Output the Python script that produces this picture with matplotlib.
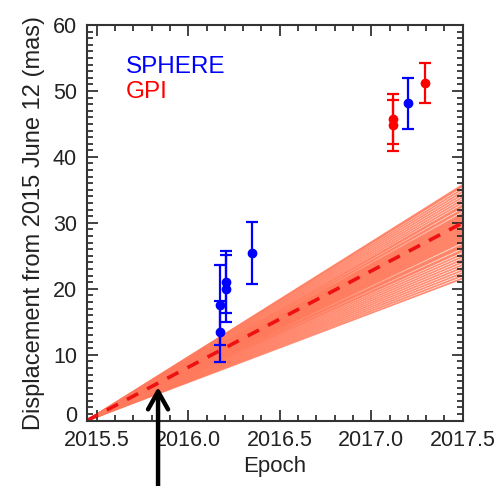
import matplotlib
matplotlib.use("Agg")
import matplotlib.pyplot as plt
import matplotlib.transforms as mtransforms
import numpy as np
from matplotlib.ticker import MultipleLocator

plt.rcParams['font.family'] = ['Liberation Sans', 'DejaVu Sans']

# Reference epoch (2015 June 12) and axis range
t0 = 2015.445
xlim = (2015.445, 2017.5)
ylim = (0, 60)

# Fan of orbital-motion predictions (mas/yr)
fan_slopes = [10.5, 10.7, 10.9, 11.1, 11.3, 11.5, 11.7, 11.9, 12.1, 12.3,
              12.5, 12.6, 12.8, 12.9, 13.0, 13.2, 13.3, 13.4, 13.5, 13.6,
              13.7, 13.8, 13.9, 14.0, 14.1, 14.2, 14.3, 14.4, 14.5, 14.6,
              14.7, 14.8, 14.9, 15.0, 15.1, 15.2, 15.3, 15.5, 15.6, 15.8,
              15.9, 16.1, 16.3, 16.5, 16.7, 16.9, 17.1, 17.3, 17.4]
mean_slope = 14.6

# SPHERE measurements
sphere_epoch = [2016.173, 2016.173, 2016.205, 2016.205, 2016.347, 2017.199]
sphere_disp = [17.5, 13.5, 21.1, 20.0, 25.45, 48.1]
sphere_err = [6.1, 4.6, 4.7, 5.1, 4.65, 3.85]

# GPI measurements
gpi_epoch = [2017.12, 2017.12, 2017.294]
gpi_disp = [45.7, 44.8, 51.2]
gpi_err = [3.8, 3.9, 3.0]

xtick_vals = [2015.5, 2016.0, 2016.5, 2017.0, 2017.5]
xtick_labels = ['2015.5', '2016.0', '2016.5', '2017.0', '2017.5']
ytick_vals = [0, 10, 20, 30, 40, 50, 60]

arrow_epoch = 2015.835
arrow_tip = 5.1

fig = plt.figure(figsize=(5.02, 4.86), dpi=100)
ax = fig.add_axes([0.1727, 0.1344, 0.749, 0.8142])

tt = np.array([t0, xlim[1]])
for s in fan_slopes:
    ax.plot(tt, s * (tt - t0), color='#ff7a5c', lw=1.3, alpha=0.85, zorder=1)
ax.plot(tt, mean_slope * (tt - t0), color='#ee1111', lw=2.6, ls=(0, (3.5, 2.8)), zorder=2)

ax.errorbar(sphere_epoch, sphere_disp, yerr=sphere_err, fmt='o', color='#0000ff',
            ms=6, elinewidth=1.6, capsize=4, capthick=1.6, zorder=3)
ax.errorbar(gpi_epoch, gpi_disp, yerr=gpi_err, fmt='o', color='#ff0000',
            ms=6, elinewidth=1.6, capsize=4, capthick=1.6, zorder=3)

ax.text(2015.66, 53.7, 'SPHERE', color='#0000ff', fontsize=17.5, va='center', ha='left')
ax.text(2015.66, 49.8, 'GPI', color='#ff0000', fontsize=17.5, va='center', ha='left')

ax.set_xlim(*xlim)
ax.set_ylim(*ylim)
ax.set_xticks(xtick_vals)
ax.set_xticklabels(xtick_labels)
ax.set_yticks(ytick_vals)
ax.xaxis.set_minor_locator(MultipleLocator(0.1))
ax.yaxis.set_minor_locator(MultipleLocator(1))
ax.tick_params(which='both', direction='in', top=True, right=True, labelsize=15.5,
               colors='#222222', width=1.2)
ax.tick_params(which='major', length=8, pad=7)
ax.tick_params(which='minor', length=4)
for sp in ax.spines.values():
    sp.set_linewidth(1.5)
    sp.set_color('#333333')

# the "0" label sits slightly above the axis line in the reference
zero_lbl = ax.get_yticklabels()[0]
zero_lbl.set_transform(zero_lbl.get_transform() +
                       mtransforms.ScaledTranslation(0, 7 / 100, fig.dpi_scale_trans))

ax.set_xlabel('Epoch', fontsize=16, labelpad=3, color='#222222')
ax.set_ylabel('Displacement from 2015 June 12 (mas)', fontsize=17, labelpad=6, color='#222222')

ax.annotate('', xy=(arrow_epoch, arrow_tip), xycoords='data',
            xytext=(arrow_epoch, 0.0), textcoords=('data', 'figure fraction'),
            arrowprops=dict(arrowstyle='->,head_length=0.8,head_width=0.45', color='black',
                            lw=3.2, shrinkA=0, shrinkB=0, mutation_scale=16),
            annotation_clip=False, zorder=5)

fig.savefig('out.png', dpi=100)
